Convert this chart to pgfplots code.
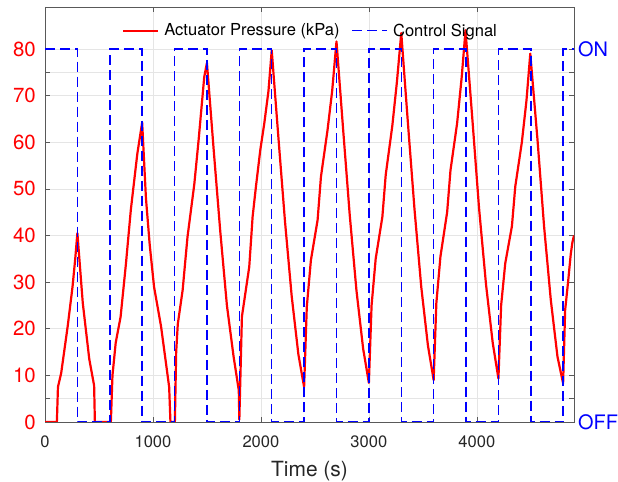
\documentclass[border=0pt]{standalone}
\usepackage{fontspec}
\setmainfont{TeX Gyre Heros}
\usepackage{pgfplots}
\pgfplotsset{compat=1.18}
\begin{document}
\begin{tikzpicture}
\begin{axis}[
  scale only axis, width=529bp, height=415bp,
  xmin=0, xmax=4900, ymin=0, ymax=89,
  xtick={0,1000,2000,3000,4000},
  xticklabels={0,1000,2000,3000,4000},
  ytick={0,5,10,20,30,40,50,60,70,75,80},
  yticklabels={0,,10,20,30,40,50,60,70,,80},
  tick align=inside,
  major tick length=5bp,
  xtick pos=both, ytick pos=both,
  grid=major,
  major grid style={draw=black!10, line width=0.5bp},
  axis line style={draw=black!65, line width=0.6bp},
  every tick/.style={draw=black!65, line width=0.6bp},
  xticklabel style={font=\fontsize{16.6}{18}\selectfont, text=black!85, anchor=base, inner sep=0pt, yshift=-26bp},
  yticklabel style={font=\fontsize{20.5}{22}\selectfont, text=red, anchor=east, inner sep=0pt, xshift=-9bp},
  xlabel={Time (s)},
  xlabel style={font=\fontsize{21}{24}\selectfont, text=black!85, at={(axis description cs:0.5,0)}, anchor=base, yshift=-55bp, inner sep=0pt},
  legend columns=2,
  legend style={at={(axis description cs:0.5,1)}, anchor=north, yshift=-16.5bp, draw=none, fill=none, inner sep=0pt,
    font=\fontsize{16.6}{18}\selectfont, nodes={inner sep=0pt},
    /tikz/every odd column/.append style={column sep=5bp},
    /tikz/every even column/.append style={column sep=12bp}},
  legend image code/.code={\draw[#1] (0bp,0bp) -- (35bp,0bp);},
]
\addplot[red, line width=2.2bp, line join=round] coordinates {
(0,0) (110,0) (120,7.5) (150,10.5) (210,20.5) (255,29) (280,35) (300,40.5)
(350,25.5) (410,13.5) (455,7.8) (462,0) (610,0)
(625,10) (655,17) (700,22.5) (750,34) (795,45.5) (855,57.5) (885,62) (900,64.2)
(935,48) (970,38) (1010,29) (1075,20.5) (1150,7.5) (1162,0) (1203,0)
(1215,15) (1230,21) (1275,28.3) (1320,39.7) (1383,51) (1423,60.5) (1475,74) (1500,77)
(1562,58.5) (1623,41) (1685,25) (1747,14) (1795,6.8) (1800,0.5)
(1824,22.6) (1892,33.3) (1923,44) (1954,50.5) (1994,58.3) (2031,64) (2070,71) (2100,79.7)
(2162,61) (2223,43) (2285,27) (2347,14.5) (2400,7.5)
(2425,24.7) (2463,34.7) (2525,43.3) (2556,52.6) (2617,62.6) (2660,71) (2700,81.6)
(2762,62.6) (2823,44.3) (2885,28.2) (2947,15.7) (3000,8.4)
(3025,25) (3063,35) (3125,44) (3156,53) (3217,63.5) (3260,73) (3300,83.4)
(3362,64) (3423,45.5) (3485,29) (3547,16.4) (3600,9)
(3625,25.5) (3663,35.5) (3725,45) (3756,54) (3817,64) (3860,74) (3895,84)
(3960,64.5) (4020,46) (4085,29.5) (4147,17) (4200,9.3)
(4225,25) (4263,34) (4325,42) (4356,50.5) (4417,60) (4460,69) (4495,79)
(4562,60.5) (4623,41.9) (4685,26.2) (4747,14) (4799,8.3)
(4818,24) (4845,30) (4870,36) (4885,38.5) (4900,40)
};
\addlegendentry{Actuator Pressure (kPa)}
\addplot[blue, line width=1.5bp, dash pattern=on 10bp off 5bp] coordinates {
(0,80) (300,80) (300,0) (600,0) (600,80) (900,80) (900,0) (1200,0) (1200,80)
(1500,80) (1500,0) (1800,0) (1800,80) (2100,80) (2100,0) (2400,0) (2400,80)
(2700,80) (2700,0) (3000,0) (3000,80) (3300,80) (3300,0) (3600,0) (3600,80)
(3900,80) (3900,0) (4200,0) (4200,80) (4500,80) (4500,0) (4800,0) (4800,80) (4900,80)
};
\addlegendentry{Control Signal}
\coordinate (on) at (axis cs:4900,80);
\coordinate (off) at (axis cs:4900,0);
\coordinate (bl) at (rel axis cs:0,0);
\coordinate (tr) at (rel axis cs:1,1);
\end{axis}
\node[anchor=west, inner sep=0pt, xshift=4bp, text=blue, font=\fontsize{20}{22}\selectfont] at (on) {ON};
\node[anchor=west, inner sep=0pt, xshift=4bp, text=blue, font=\fontsize{20}{22}\selectfont] at (off) {OFF};
\pgfresetboundingbox
\path (bl) ++(-45bp,-60bp) rectangle (tr);
\path (tr) ++(44bp,7bp);
\end{tikzpicture}
\end{document}
